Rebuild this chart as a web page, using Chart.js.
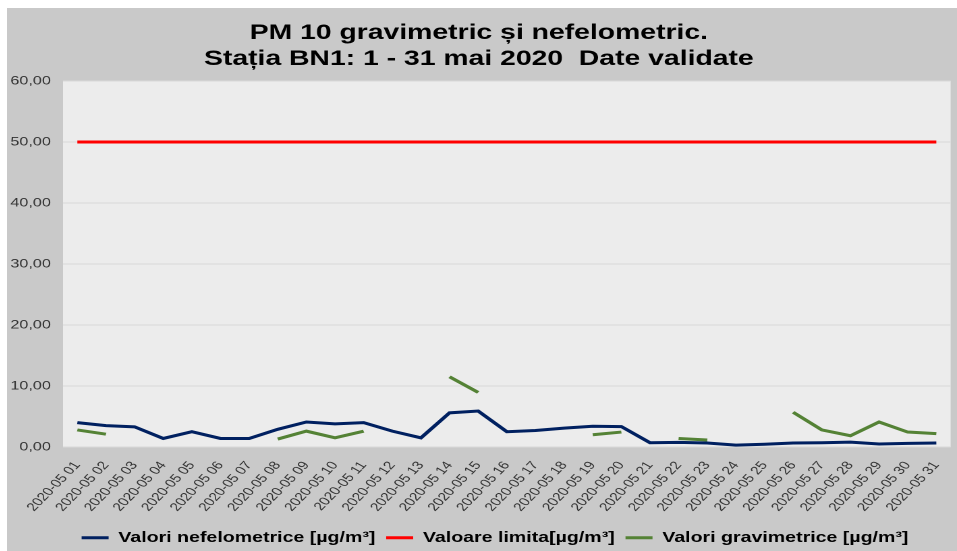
<!DOCTYPE html>
<html>
<head>
<meta charset="utf-8">
<script src="https://cdn.jsdelivr.net/npm/chart.js@4.4.1/dist/chart.umd.min.js"></script>
<style>
  html, body { margin: 0; padding: 0; background: #fff; }
  #bg { position: absolute; left: 7px; top: 8px; width: 950px; height: 543px; background: #c9c9c9; overflow: hidden; }
  #wrap { width: 704px; height: 543px; transform: scaleX(1.3494); transform-origin: 0 0; }
</style>
</head>
<body>
<div id="bg"><div id="wrap"><canvas id="chart_pm10"></canvas></div></div>
<script>
const DAYS = [
  '2020-05 01', '2020-05 02', '2020-05 03', '2020-05 04', '2020-05 05', '2020-05 06', '2020-05 07', '2020-05 08',
  '2020-05 09', '2020-05 10', '2020-05 11', '2020-05 12', '2020-05 13', '2020-05 14', '2020-05 15', '2020-05 16',
  '2020-05 17', '2020-05 18', '2020-05 19', '2020-05 20', '2020-05 21', '2020-05 22', '2020-05 23', '2020-05 24',
  '2020-05 25', '2020-05 26', '2020-05 27', '2020-05 28', '2020-05 29', '2020-05 30', '2020-05 31'
];

const NEFELOMETRIC = [4.0, 3.5, 3.3, 1.4, 2.5, 1.4, 1.4, 2.9, 4.1, 3.8, 4.0, 2.6, 1.5, 5.6, 5.9, 2.5,
  2.7, 3.1, 3.4, 3.35, 0.7, 0.75, 0.65, 0.3, 0.45, 0.65, 0.7, 0.8, 0.5, 0.6, 0.65];

const LIMIT = [50, 50, 50, 50, 50, 50, 50, 50, 50, 50, 50, 50, 50, 50, 50, 50,
  50, 50, 50, 50, 50, 50, 50, 50, 50, 50, 50, 50, 50, 50, 50];

const GRAVIMETRIC = [2.8, 2.1, null, null, null, null, null, 1.3, 2.6, 1.5, 2.6, null, null, 11.5, 8.95, null,
  null, null, 2.0, 2.45, null, 1.4, 1.15, null, null, 5.7, 2.8, 1.85, 4.1, 2.45, 2.2];

const Y_TICKS = [0, 10, 20, 30, 40, 50, 60];

const FONT = '"Liberation Sans", Arial, sans-serif';

// fundal gri deschis pentru zona graficului
const plotBg = {
  id: 'plotBg',
  beforeDraw(chart) {
    const { ctx, chartArea: a } = chart;
    ctx.save();
    ctx.fillStyle = '#ececec';
    ctx.fillRect(a.left, a.top, a.right - a.left, a.bottom - a.top);
    ctx.restore();
  }
};

// legenda e putin decalata spre dreapta in original
const legendShift = {
  id: 'legendShift',
  afterLayout(chart) {
    chart.legend.left += 12;
    chart.legend.right += 12;
  }
};

const line = (label, data, color) => ({
  label: label,
  data: data,
  borderColor: color,
  backgroundColor: color,
  borderWidth: 3,
  pointRadius: 0,
  tension: 0,
  fill: false,
  spanGaps: false
});

new Chart(document.getElementById('chart_pm10'), {
  type: 'line',
  data: {
    labels: DAYS,
    datasets: [
      line('Valori nefelometrice [µg/m³]', NEFELOMETRIC, '#002060'),
      line('Valoare limita[µg/m³]', LIMIT, '#ff0000'),
      line('Valori gravimetrice [µg/m³]', GRAVIMETRIC, '#548235')
    ]
  },
  options: {
    responsive: true,
    maintainAspectRatio: false,
    devicePixelRatio: 2,
    animation: false,
    layout: { padding: { left: 0, right: 4.7, top: 0, bottom: -4 } },
    plugins: {
      title: {
        display: true,
        text: ['PM 10 gravimetric și nefelometric.', 'Stația BN1: 1 - 31 mai 2020  Date validate'],
        color: '#000',
        font: { family: FONT, size: 21, weight: 'bold', lineHeight: 1.25 },
        padding: { top: 12, bottom: 8.5 }
      },
      legend: {
        position: 'bottom',
        labels: {
          color: '#000',
          font: { family: FONT, size: 14.5, weight: 'bold' },
          boxWidth: 20,
          boxHeight: 3,
          padding: 8,
          generateLabels(chart) {
            return Chart.defaults.plugins.legend.labels.generateLabels(chart).map(it => {
              it.fillStyle = it.strokeStyle;
              it.lineWidth = 0;
              return it;
            });
          }
        }
      },
      tooltip: { enabled: false }
    },
    scales: {
      x: {
        offset: true,
        grid: { display: false },
        border: { display: false },
        ticks: {
          color: '#333',
          font: { family: FONT, size: 11.5 },
          minRotation: 53.5,
          maxRotation: 53.5,
          autoSkip: false,
          padding: 4
        },
        afterFit(scale) { scale.height = 75.5; }
      },
      y: {
        min: 0,
        max: 60,
        afterBuildTicks(scale) { scale.ticks = Y_TICKS.map(v => ({ value: v })); },
        grid: { color: '#d9d9d9', lineWidth: 1, drawTicks: false },
        border: { display: false },
        ticks: {
          color: '#333',
          font: { family: FONT, size: 12 },
          padding: 9,
          callback: v => v.toFixed(2).replace('.', ',')
        },
        afterFit(scale) { scale.width = 41.5; }
      }
    }
  },
  plugins: [plotBg, legendShift]
});
</script>
</body>
</html>
